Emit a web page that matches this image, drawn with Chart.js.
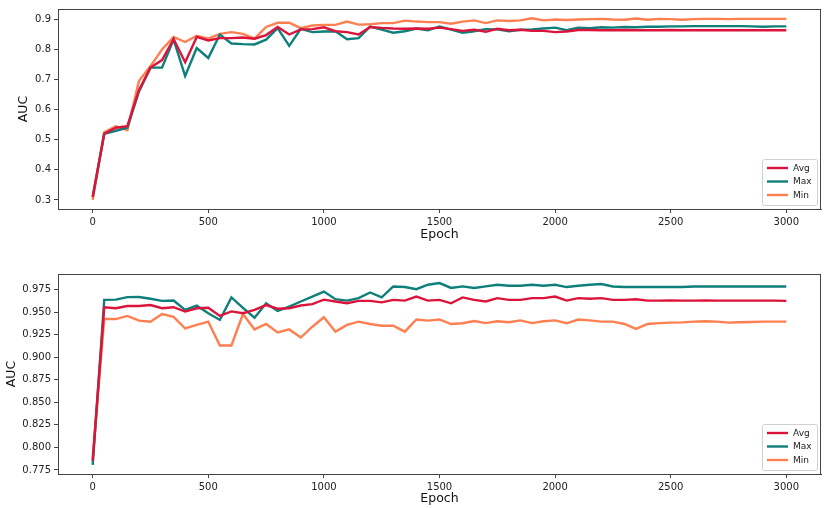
<!DOCTYPE html>
<html>
<head>
<meta charset="utf-8">
<script src="https://cdn.jsdelivr.net/npm/chart.js@4"></script>
<style>
  body { margin: 0; background: #fff; }
  #wrap { position: relative; width: 830px; height: 508px; }
  canvas { position: absolute; left: 0; }
</style>
</head>
<body>
<div id="wrap">
  <canvas id="chartTop" width="830" height="254" style="top:0"></canvas>
  <canvas id="chartBottom" width="830" height="254" style="top:254px"></canvas>
</div>
<script>
// epochs (x values)
const epochs = [0, 50, 100, 150, 200, 250, 300, 350, 400, 450, 500, 550, 600, 650, 700, 750, 800, 850, 900, 950,
  1000, 1050, 1100, 1150, 1200, 1250, 1300, 1350, 1400, 1450, 1500, 1550, 1600, 1650, 1700, 1750, 1800, 1850, 1900, 1950,
  2000, 2050, 2100, 2150, 2200, 2250, 2300, 2350, 2400, 2450, 2500, 2550, 2600, 2650, 2700, 2750, 2800, 2850, 2900, 2950, 3000];

// top panel
const topAvg = [0.31, 0.52, 0.54, 0.545, 0.665, 0.74, 0.765, 0.835, 0.758, 0.842, 0.83, 0.838, 0.838, 0.84, 0.836, 0.848, 0.875, 0.85, 0.867, 0.868,
  0.874, 0.861, 0.858, 0.85, 0.875, 0.872, 0.87, 0.869, 0.87, 0.869, 0.873, 0.868, 0.862, 0.866, 0.859, 0.869, 0.864, 0.866, 0.862, 0.862,
  0.858, 0.86, 0.865, 0.865, 0.864, 0.864, 0.865, 0.864, 0.864, 0.864, 0.865, 0.864, 0.864, 0.864, 0.864, 0.864, 0.864, 0.864, 0.864, 0.864, 0.864];
const topMax = [0.31, 0.52, 0.53, 0.54, 0.66, 0.74, 0.74, 0.833, 0.712, 0.805, 0.772, 0.85, 0.82, 0.818, 0.817, 0.833, 0.871, 0.812, 0.869, 0.858,
  0.86, 0.861, 0.834, 0.838, 0.876, 0.866, 0.856, 0.861, 0.87, 0.864, 0.877, 0.866, 0.856, 0.861, 0.868, 0.867, 0.861, 0.866, 0.867, 0.87,
  0.873, 0.864, 0.873, 0.871, 0.874, 0.873, 0.875, 0.874, 0.876, 0.876, 0.877, 0.877, 0.878, 0.878, 0.878, 0.878, 0.878, 0.877, 0.876, 0.877, 0.877];
const topMin = [0.30, 0.525, 0.545, 0.532, 0.695, 0.745, 0.80, 0.842, 0.825, 0.846, 0.836, 0.852, 0.858, 0.852, 0.836, 0.875, 0.889, 0.889, 0.871, 0.88,
  0.882, 0.882, 0.893, 0.883, 0.884, 0.888, 0.888, 0.896, 0.893, 0.891, 0.891, 0.886, 0.893, 0.897, 0.888, 0.897, 0.895, 0.897, 0.904, 0.897,
  0.9, 0.898, 0.9, 0.901, 0.902, 0.9, 0.899, 0.903, 0.899, 0.902, 0.901, 0.899, 0.901, 0.902, 0.902, 0.901, 0.902, 0.902, 0.902, 0.902, 0.902];

// bottom panel
const botAvg = [0.785, 0.9556, 0.9545, 0.957, 0.957, 0.958, 0.9545, 0.9556, 0.9508, 0.9545, 0.955, 0.946, 0.951, 0.949, 0.9527, 0.958, 0.954, 0.9545, 0.9575, 0.959,
  0.964, 0.962, 0.96, 0.9627, 0.9627, 0.961, 0.9638, 0.963, 0.9675, 0.963, 0.9638, 0.96, 0.9665, 0.9638, 0.962, 0.9657, 0.9638, 0.9638, 0.9657, 0.9657,
  0.9675, 0.963, 0.9657, 0.965, 0.9657, 0.9638, 0.9638, 0.9645, 0.963, 0.963, 0.9632, 0.963, 0.963, 0.9632, 0.963, 0.963, 0.963, 0.963, 0.963, 0.963, 0.9627];
const botMax = [0.7806, 0.9638, 0.964, 0.9668, 0.967, 0.965, 0.9627, 0.963, 0.9527, 0.9575, 0.949, 0.9415, 0.9665, 0.955, 0.944, 0.96, 0.9515, 0.9564, 0.962, 0.9675,
  0.973, 0.9646, 0.963, 0.9657, 0.972, 0.9665, 0.9787, 0.978, 0.9757, 0.9806, 0.9824, 0.977, 0.9787, 0.977, 0.9787, 0.9806, 0.9795, 0.9795, 0.9806, 0.9795,
  0.9806, 0.978, 0.9795, 0.9806, 0.9814, 0.9787, 0.978, 0.978, 0.978, 0.978, 0.978, 0.978, 0.9787, 0.9787, 0.9787, 0.9787, 0.9787, 0.9787, 0.9787, 0.9787, 0.9787];
const botMin = [0.787, 0.9426, 0.9425, 0.946, 0.9407, 0.9396, 0.948, 0.945, 0.932, 0.936, 0.9396, 0.9132, 0.9132, 0.948, 0.931, 0.937, 0.9277, 0.931, 0.922, 0.934,
  0.9445, 0.9285, 0.936, 0.9396, 0.937, 0.935, 0.935, 0.9285, 0.942, 0.9407, 0.942, 0.937, 0.9378, 0.9403, 0.938, 0.94, 0.939, 0.941, 0.938, 0.94,
  0.941, 0.9378, 0.942, 0.941, 0.9396, 0.9396, 0.937, 0.9315, 0.937, 0.938, 0.9385, 0.9388, 0.9396, 0.94, 0.9396, 0.9385, 0.939, 0.9393, 0.9396, 0.9396, 0.9396];

const xTicks = [0, 500, 1000, 1500, 2000, 2500, 3000];
const topYTicks = [0.3, 0.4, 0.5, 0.6, 0.7, 0.8, 0.9];
const botYTicks = [0.775, 0.8, 0.825, 0.85, 0.875, 0.9, 0.925, 0.95, 0.975];

const seriesNames = ['Avg', 'Max', 'Min'];
const colors = ['#dc143c', '#0e7f7a', '#ff7f50'];

const FONT = 'DejaVu Sans';
const axisColor = '#444';

// frame around the plot + legend box in the lower right
const framePlugin = {
  id: 'frame',
  afterDraw(chart) {
    const { ctx, chartArea: a } = chart;
    ctx.save();
    ctx.strokeStyle = axisColor;
    ctx.lineWidth = 1;
    ctx.strokeRect(a.left + 0.5, a.top + 0.5, a.right - a.left - 1, a.bottom - a.top);

    // legend
    const w = 55, h = 46;
    const x0 = a.right - 4 - w, y0 = a.bottom - 4 - h;
    ctx.fillStyle = 'rgba(255,255,255,0.8)';
    ctx.strokeStyle = '#d0d0d0';
    ctx.beginPath();
    ctx.roundRect(x0 + 0.5, y0 + 0.5, w, h, 2);
    ctx.fill();
    ctx.stroke();
    ctx.font = '9px "' + FONT + '"';
    ctx.textBaseline = 'middle';
    seriesNames.forEach((name, i) => {
      const y = a.bottom - 41 + i * 13.5;
      ctx.strokeStyle = colors[i];
      ctx.lineWidth = 2.4;
      ctx.beginPath();
      ctx.moveTo(x0 + 5, y);
      ctx.lineTo(x0 + 26, y);
      ctx.stroke();
      ctx.fillStyle = '#222';
      ctx.fillText(name, x0 + 31, y + 0.5);
    });
    ctx.restore();
  }
};

function makeChart(id, series, yMin, yMax, yTicks, yFmt, opts) {
  const datasets = series.map((vals, i) => ({
    label: seriesNames[i],
    data: epochs.map((e, k) => ({ x: e, y: vals[k] })),
    borderColor: colors[i],
    backgroundColor: colors[i],
    borderWidth: 2.4,
    pointRadius: 0,
    tension: 0
  }));

  return new Chart(document.getElementById(id), {
    type: 'line',
    data: { datasets: datasets },
    options: {
      responsive: false,
      animation: false,
      devicePixelRatio: 1,
      layout: { padding: { top: opts.padTop, right: 9, left: 0, bottom: 0 } },
      plugins: { legend: { display: false }, tooltip: { enabled: false } },
      scales: {
        x: {
          type: 'linear',
          min: -150,
          max: 3150,
          afterBuildTicks: s => { s.ticks = xTicks.map(v => ({ value: v })); },
          afterFit: s => { s.height = opts.xHeight; },
          grid: { drawOnChartArea: false, drawTicks: true, tickLength: 4, color: axisColor },
          border: { display: true, color: axisColor },
          ticks: { color: '#222', padding: 3, maxRotation: 0, font: { family: FONT, size: 10 }, callback: v => String(v) },
          title: { display: true, text: 'Epoch', color: '#111', font: { family: FONT, size: 12.5 }, padding: { top: 0, bottom: opts.xTitlePad } }
        },
        y: {
          min: yMin,
          max: yMax,
          afterBuildTicks: s => { s.ticks = yTicks.map(v => ({ value: v })); },
          afterFit: s => { s.width = 58; },
          grid: { drawOnChartArea: false, drawTicks: true, tickLength: 4, color: axisColor },
          border: { display: true, color: axisColor },
          ticks: { color: '#222', padding: 3, font: { family: FONT, size: 10 }, callback: v => yFmt(v) },
          title: { display: true, text: 'AUC', color: '#111', font: { family: FONT, size: 12.5 }, padding: { top: opts.yTitlePad, bottom: 0 } }
        }
      }
    },
    plugins: [framePlugin]
  });
}

makeChart('chartTop', [topAvg, topMax, topMin], 0.2698, 0.9348, topYTicks, v => v.toFixed(1),
  { padTop: 9, xHeight: 45, xTitlePad: 11.5, yTitlePad: 16.5 });
makeChart('chartBottom', [botAvg, botMax, botMin], 0.7705, 0.9925, botYTicks, v => v.toFixed(3),
  { padTop: 20, xHeight: 34, xTitlePad: 1.5, yTitlePad: 4.5 });
</script>
</body>
</html>
